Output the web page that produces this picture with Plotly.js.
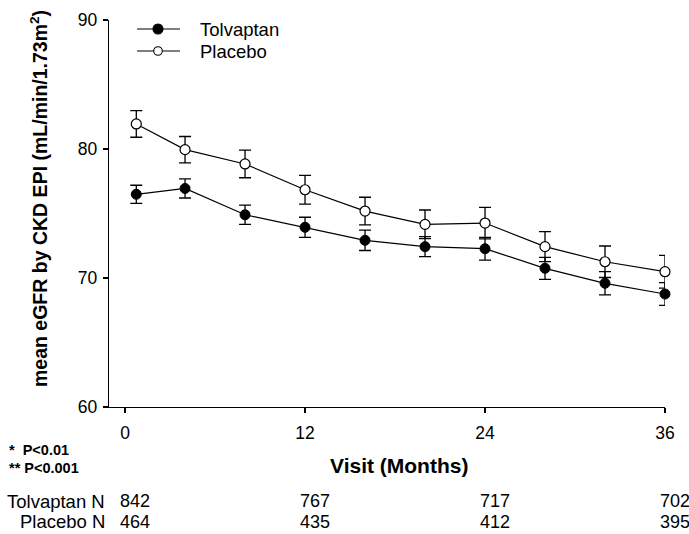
<!DOCTYPE html>
<html>
<head>
<meta charset="utf-8">
<script src="https://cdn.plot.ly/plotly-3.0.1.min.js"></script>
<style>html,body{margin:0;padding:0;background:#fff;}#chart{width:689px;height:534px;}</style>
</head>
<body>
<div id="chart"></div>
<script>
// Data
const months = [0.75, 4, 8, 12, 16, 20, 24, 28, 32, 36];
const tolvaptanMean = [76.49, 76.94, 74.90, 73.93, 72.92, 72.43, 72.27, 70.75, 69.59, 68.76];
const tolvaptanErr  = [0.70, 0.74, 0.75, 0.78, 0.79, 0.78, 0.88, 0.85, 0.90, 0.88];
const placeboMean   = [81.94, 79.95, 78.84, 76.84, 75.19, 74.16, 74.26, 72.43, 71.26, 70.49];
const placeboErr    = [1.03, 1.02, 1.07, 1.11, 1.07, 1.11, 1.22, 1.16, 1.22, 1.27];
const xTicks = [0, 12, 24, 36];
const yTicks = [60, 70, 80, 90];
const nMonths = [0, 12, 24, 36];
const tolvaptanN = [842, 767, 717, 702];
const placeboN = [464, 435, 412, 395];
const seriesNames = ["Tolvaptan", "Placebo"];
const seriesFill = ["#000", "#fff"];

const FONT = "Liberation Sans, Arial, sans-serif";

// plot-area geometry (pixels) used to place the hand-made legend and notes
const L = 109, T = 20, W = 556, H = 387;
const px = v => (v - L) / W;
const py = v => (T + H - v) / H;

const errStyle = {type: "data", visible: true, color: "#000", thickness: 1.3, width: 6};

const traces = [
  {
    x: months, y: tolvaptanMean, name: seriesNames[0], type: "scatter", mode: "lines+markers",
    line: {color: "#000", width: 1.2},
    marker: {symbol: "circle", size: 10, color: seriesFill[0], line: {color: "#000", width: 1}},
    error_y: Object.assign({array: tolvaptanErr}, errStyle),
    cliponaxis: false, showlegend: false
  },
  {
    x: months, y: placeboMean, name: seriesNames[1], type: "scatter", mode: "lines+markers",
    line: {color: "#000", width: 1.2},
    marker: {symbol: "circle", size: 10, color: seriesFill[1], line: {color: "#000", width: 1.2}},
    error_y: Object.assign({array: placeboErr}, errStyle),
    cliponaxis: false, showlegend: false
  }
];

const shapes = [];
const annotations = [];

// legend (drawn by hand to match reference geometry)
const legendRows = [29, 51];
seriesNames.forEach((nm, i) => {
  const yy = py(legendRows[i]);
  shapes.push({type: "line", xref: "paper", yref: "paper", x0: px(137), x1: px(180), y0: yy, y1: yy,
               line: {color: "#000", width: 1.2}});
  const r = i === 0 ? 5 : 4.3;
  shapes.push({type: "circle", xref: "paper", yref: "paper", xsizemode: "pixel", ysizemode: "pixel",
               xanchor: px(158), yanchor: yy, x0: -r, x1: r, y0: -r, y1: r,
               fillcolor: seriesFill[i], line: {color: "#000", width: 1.1}});
  annotations.push({text: nm, xref: "paper", yref: "paper", x: px(198), y: yy, xanchor: "left", yanchor: "middle",
                    showarrow: false, font: {family: FONT, size: 18.5, color: "#000"}});
});

// axis titles
annotations.push({
  text: "<b>mean eGFR by CKD EPI (mL/min/1.73m<sup>2</sup>)</b>", textangle: -90,
  xref: "paper", yref: "paper", x: px(39), y: py(199), xanchor: "center", yanchor: "middle",
  showarrow: false, font: {family: FONT, size: 19.5, color: "#000"}
});
annotations.push({
  text: "<b>Visit (Months)</b>",
  xref: "paper", yref: "paper", x: px(399), y: py(465), xanchor: "center", yanchor: "middle",
  showarrow: false, font: {family: FONT, size: 21, color: "#000"}
});
// p-value notes
annotations.push({
  text: "<b>*  P<0.01</b>", xref: "paper", yref: "paper", x: px(7), y: py(450),
  xanchor: "left", yanchor: "middle", showarrow: false, font: {family: FONT, size: 14.5, color: "#000"}
});
annotations.push({
  text: "<b>** P<0.001</b>", xref: "paper", yref: "paper", x: px(7), y: py(468),
  xanchor: "left", yanchor: "middle", showarrow: false, font: {family: FONT, size: 14.5, color: "#000"}
});
// N table
const nRows = [501, 521.5];
const nLabels = ["Tolvaptan N", "Placebo N"];
const nValues = [tolvaptanN, placeboN];
nLabels.forEach((lab, r) => {
  annotations.push({
    text: lab, xref: "paper", yref: "paper", x: px(107), y: py(nRows[r]),
    xanchor: "right", yanchor: "middle", showarrow: false, font: {family: FONT, size: 18.5, color: "#000"}
  });
  nMonths.forEach((m, i) => {
    annotations.push({
      text: String(nValues[r][i]), xref: "x", yref: "paper", x: m, xshift: -7, y: py(nRows[r]),
      xanchor: "left", yanchor: "middle", showarrow: false, font: {family: FONT, size: 18, color: "#000"}
    });
  });
});

const layout = {
  width: 689, height: 534,
  margin: {l: L, r: 689 - L - W, t: T, b: 534 - T - H, pad: 0},
  paper_bgcolor: "#fff", plot_bgcolor: "#fff",
  font: {family: FONT, size: 17, color: "#000"},
  showlegend: false,
  xaxis: {
    range: [-1.07, 36], tickvals: xTicks, ticktext: xTicks.map(String),
    showgrid: false, zeroline: false, showline: true, linecolor: "#000", linewidth: 1.2,
    ticks: "outside", ticklen: 5, tickcolor: "#000", tickwidth: 1.2,
    tickfont: {family: FONT, size: 17.5, color: "#000"}, ticklabelstandoff: 5
  },
  yaxis: {
    range: [60, 90], tickvals: yTicks, ticktext: yTicks.map(String),
    showgrid: false, zeroline: false, showline: true, linecolor: "#000", linewidth: 1.2,
    ticks: "outside", ticklen: 5, tickcolor: "#000", tickwidth: 1.2,
    tickfont: {family: FONT, size: 17.5, color: "#000"}, ticklabelstandoff: 2
  },
  shapes: shapes,
  annotations: annotations
};

Plotly.newPlot("chart", traces, layout, {displayModeBar: false, staticPlot: true});
</script>
</body>
</html>
